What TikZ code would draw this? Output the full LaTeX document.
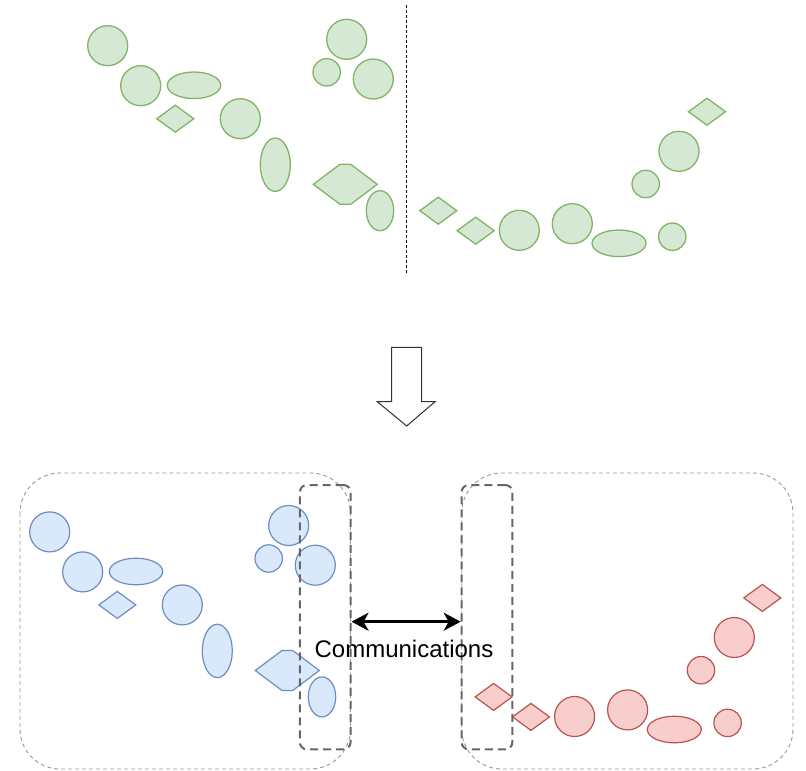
\documentclass[tikz,border=0pt]{standalone}
\usepackage{fontspec}
\setmainfont{Liberation Sans}
\usetikzlibrary{arrows.meta}
\definecolor{gfill}{HTML}{D5E8D4}\definecolor{gdraw}{HTML}{82B366}
\definecolor{bfill}{HTML}{DAE8FC}\definecolor{bdraw}{HTML}{6C8EBF}
\definecolor{rfill}{HTML}{F8CECC}\definecolor{rdraw}{HTML}{B85450}
\newcommand{\mydiam}[2]{(#1-18.5,#2) -- (#1,#2-13.5) -- (#1+18.5,#2) -- (#1,#2+13.5) -- cycle}
\newcommand{\leftgroup}[1]{%
  \draw[#1] (107.7,45.7) circle[radius=20];
  \draw[#1] (140.7,85.7) circle[radius=20];
  \draw[#1] (194,85.3) ellipse[x radius=26.7,y radius=13.3];
  \draw[#1] \mydiam{175.3}{118.7};
  \draw[#1] (240.3,118.7) circle[radius=20];
  \draw[#1] (275.3,164.7) ellipse[x radius=15,y radius=26.7];
  \draw[#1] (313.3,184.3) -- (340,164.3) -- (350.7,164.3) -- (377.3,184.3) -- (350.7,204.3) -- (340,204.3) -- cycle;
  \draw[#1] (380,210.7) ellipse[x radius=13.7,y radius=20];
  \draw[#1] (346.7,39.3) circle[radius=20];
  \draw[#1] (326.7,72.3) circle[radius=13.7];
  \draw[#1] (373.3,79) circle[radius=20];}
\newcommand{\rightgroup}[1]{%
  \draw[#1] \mydiam{438.3}{210.7};
  \draw[#1] \mydiam{475.7}{230.7};
  \draw[#1] (519.3,230.3) circle[radius=20];
  \draw[#1] (572.3,223.7) circle[radius=20];
  \draw[#1] (619,243.3) ellipse[x radius=27,y radius=13.3];
  \draw[#1] (672.3,236.7) circle[radius=13.7];
  \draw[#1] (645.7,184) circle[radius=13.7];
  \draw[#1] (679,151.3) circle[radius=20];
  \draw[#1] \mydiam{707}{111.7};}
\begin{document}
\begin{tikzpicture}[x=1pt,y=-1pt,
  gsh/.style={fill=gfill,draw=gdraw,line width=1.3pt},
  bsh/.style={fill=bfill,draw=bdraw,line width=1.2pt},
  rsh/.style={fill=rfill,draw=rdraw,line width=1.2pt},
  outerbox/.style={draw=black!40,line width=0.9pt,dash pattern=on 4pt off 3pt,rounded corners=40pt},
  innerbox/.style={draw=black!60,line width=2pt,dash pattern=on 8pt off 5pt,rounded corners=7pt,inner sep=0pt},
  divider/.style={draw=black,line width=1.1pt,dash pattern=on 3pt off 2pt},
  commarrow/.style={line width=2.6pt,{Stealth[length=17pt,width=18pt,inset=5pt]}-{Stealth[length=17pt,width=18pt,inset=5pt]}}]
\useasboundingbox (0,0) rectangle (806,771);
% top scene
\leftgroup{gsh}
\rightgroup{gsh}
\coordinate (dt) at (406.7,5);
\coordinate (db) at (406.7,275);
\draw[divider] (dt) -- (db);
% block arrow
\draw[draw=black!80,fill=white,line width=1pt] (391.7,347.3) -- (421.7,347.3) -- (421.7,401.7) -- (435,401.7) -- (406.7,426) -- (377.3,401.7) -- (391.7,401.7) -- cycle;
% bottom boxes
\draw[outerbox] (20,473) rectangle (350.5,769);
\draw[outerbox] (461.7,473) rectangle (793,769);
\begin{scope}[shift={(-58,486.2)}]
\leftgroup{bsh}
\end{scope}
\begin{scope}[shift={(55.3,486.2)}]
\rightgroup{rsh}
\end{scope}
\node[innerbox,minimum width=50.7pt,minimum height=264.3pt] (inL) at (325.2,617.2) {};
\node[innerbox,minimum width=50.7pt,minimum height=264.3pt] (inR) at (487,617.2) {};
\coordinate (aL) at (inL.east |- 0,621.7);
\coordinate (aR) at (inR.west |- 0,621.7);
\draw[commarrow] (aL) -- (aR);
\node[font=\fontsize{24}{28}\selectfont,inner sep=0pt] (comm) at (404,648.5) {Communications};
\end{tikzpicture}
\end{document}
